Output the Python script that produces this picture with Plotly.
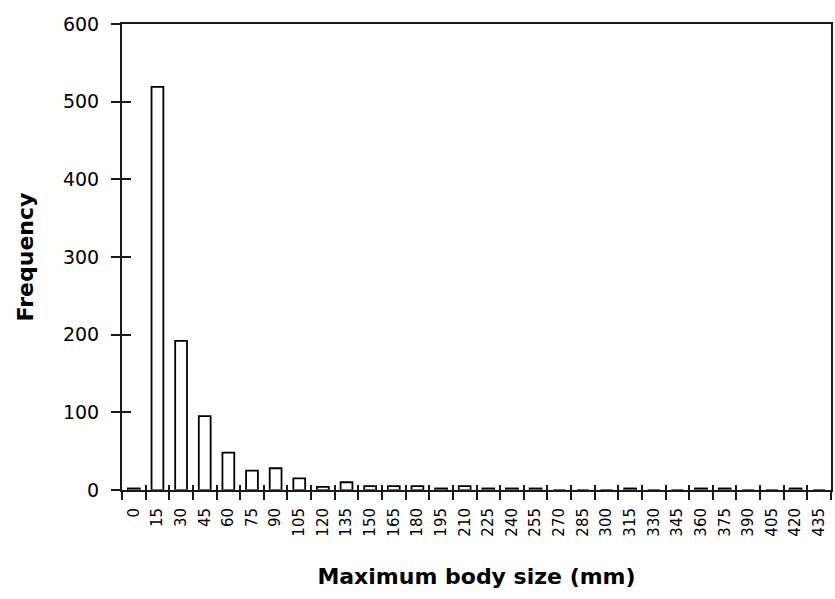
import plotly.graph_objects as go

categories = [str(v) for v in range(0, 436, 15)]
frequency = [2, 519, 192, 95, 48, 25, 28, 15, 4, 10, 5, 5, 5, 2, 5, 2, 2, 2, 0, 0,
             0, 2, 0, 0, 2, 2, 0, 0, 2, 0]
y_ticks = [0, 100, 200, 300, 400, 500, 600]

line_col = "#1a1a1a"
font_fam = "DejaVu Sans, Arial, sans-serif"

fig = go.Figure()
fig.add_trace(go.Bar(
    x=categories, y=frequency,
    marker=dict(color="white", line=dict(color="black", width=1.8)),
    xaxis="x", yaxis="y",
))
# invisible trace on overlay axes, used only for inner half of crossing ticks
fig.add_trace(go.Bar(x=categories, y=[0] * len(categories), xaxis="x2", yaxis="y2",
                     marker=dict(color="rgba(0,0,0,0)"), hoverinfo="skip", showlegend=False))

fig.update_layout(
    width=835, height=599,
    margin=dict(l=122, r=2, t=24, b=109),
    plot_bgcolor="white", paper_bgcolor="white",
    showlegend=False,
    bargap=0.5,
    font=dict(family=font_fam, size=16, color="black"),
    xaxis=dict(
        type="category", tickson="boundaries",
        ticks="outside", ticklen=8, tickwidth=1.5, tickcolor=line_col,
        showline=True, linecolor=line_col, linewidth=2, mirror=True,
        showgrid=False, tickangle=-90, ticklabelstandoff=10,
        tickfont=dict(size=15),
        title=dict(text="<b>Maximum body size (mm)</b>", standoff=33,
                   font=dict(size=22)),
    ),
    yaxis=dict(
        range=[0, 600], tickvals=y_ticks,
        ticks="outside", ticklen=9, tickwidth=1.5, tickcolor=line_col,
        showline=True, linecolor=line_col, linewidth=2, mirror=True,
        showgrid=False, zeroline=False, ticklabelstandoff=8,
        tickfont=dict(size=19),
        title=dict(text="<b>Frequency</b>", standoff=23, font=dict(size=22)),
    ),
    xaxis2=dict(
        type="category", tickson="boundaries", overlaying="x", matches="x",
        ticks="inside", ticklen=5, tickwidth=1.5, tickcolor=line_col,
        showticklabels=False, showline=False, showgrid=False, anchor="y2", side="bottom",
    ),
    yaxis2=dict(
        range=[0, 600], tickvals=y_ticks, overlaying="y", side="left", anchor="x2",
        ticks="inside", ticklen=9, tickwidth=1.5, tickcolor=line_col,
        showticklabels=False, showline=False, showgrid=False, zeroline=False,
    ),
)

fig.write_html("out.html", config={"displayModeBar": False},
               post_script="document.body.style.margin='0';")
